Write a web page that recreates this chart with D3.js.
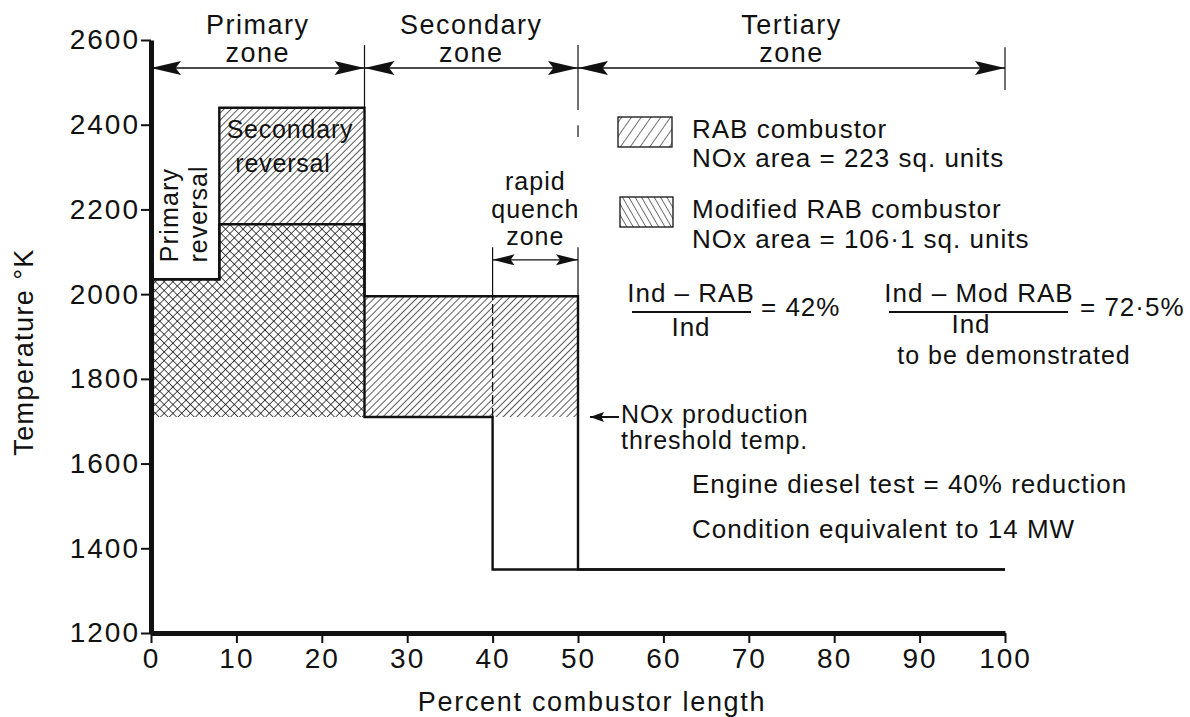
<!DOCTYPE html>
<html>
<head>
<meta charset="utf-8">
<script src="https://cdn.jsdelivr.net/npm/d3@7"></script>
<style>
  body { margin: 0; background: #fff; }
  text { font-family: "Liberation Sans", Arial, sans-serif; fill: #111; }
</style>
</head>
<body>
<div id="chart"></div>
<script>
// ---- data ----
var xTicks = [0, 10, 20, 30, 40, 50, 60, 70, 80, 90, 100];
var yTicks = [1200, 1400, 1600, 1800, 2000, 2200, 2400, 2600];

// step profiles: temperature holds from stepStart[i] to stepStart[i+1]
var stepStart = [0, 8, 25, 40, 50, 100];
var rabTemp   = [2035, 2440, 1995, 1995, 1350, 1350];
var modTemp   = [2035, 2165, 1710, 1350, 1350, 1350];
var thresholdTemp = 1710;

var zoneEdges = [0, 25, 50, 100];
var zoneNames = [["Primary", "zone"], ["Secondary", "zone"], ["Tertiary", "zone"]];
var quenchZone = [40, 50];

// ---- layout ----
var margin = {top: 40, right: 185, bottom: 84, left: 151},
    W = 1190, H = 717,
    width = W - margin.left - margin.right,
    height = H - margin.top - margin.bottom;

var svg = d3.select("#chart").append("svg")
    .attr("width", W).attr("height", H);

var defs = svg.append("defs");
function hatch(id, size, angle, cross, sw) {
    var p = defs.append("pattern")
        .attr("id", id)
        .attr("patternUnits", "userSpaceOnUse")
        .attr("width", size).attr("height", size)
        .attr("patternTransform", "rotate(" + angle + ")");
    p.append("line").attr("x1", 0).attr("y1", 0).attr("x2", 0).attr("y2", size)
        .attr("stroke", "#000").attr("stroke-width", sw);
    if (cross) {
        p.append("line").attr("x1", 0).attr("y1", 0).attr("x2", size).attr("y2", 0)
            .attr("stroke", "#000").attr("stroke-width", sw);
    }
}
hatch("rabHatch", 5, 45, false, 1.3);
hatch("crossHatch", 6.2, 45, true, 1.35);
hatch("legRab", 8, 35, false, 1.1);
hatch("legMod", 5.5, -30, false, 1.1);

var g = svg.append("g")
    .attr("transform", "translate(" + margin.left + "," + margin.top + ")");

var x = d3.scaleLinear().domain([0, 100]).range([0, width]);
var y = d3.scaleLinear().domain([1200, 2600]).range([height, 0]);

// points above the NOx threshold, for the hatched areas
function hotPoints(temps) {
    var pts = [], last = null;
    for (var i = 0; i < temps.length - 1; i++) {
        if (temps[i] > thresholdTemp) {
            pts.push({x: stepStart[i], t: temps[i]});
            last = {x: stepStart[i + 1], t: temps[i]};
        }
    }
    pts.push(last);
    return pts;
}
var area = d3.area().curve(d3.curveStepAfter)
    .x(function(d) { return x(d.x); })
    .y0(y(thresholdTemp))
    .y1(function(d) { return y(d.t); });

g.append("path").datum(hotPoints(rabTemp))
    .attr("d", area).attr("fill", "url(#rabHatch)");
g.append("path").datum(hotPoints(modTemp))
    .attr("d", area).attr("fill", "#fff");
g.append("path").datum(hotPoints(modTemp))
    .attr("d", area).attr("fill", "url(#crossHatch)");

// profile outlines
var line = d3.line().curve(d3.curveStepAfter)
    .x(function(d) { return x(d.x); })
    .y(function(d) { return y(d.t); });
[rabTemp, modTemp].forEach(function(temps) {
    var pts = stepStart.map(function(s, i) { return {x: s, t: temps[i]}; });
    g.append("path").datum(pts)
        .attr("d", line)
        .attr("fill", "none")
        .attr("stroke", "#111")
        .attr("stroke-width", 2.4);
});

// dashed line where the quench starts
g.append("line")
    .attr("x1", x(quenchZone[0])).attr("x2", x(quenchZone[0]))
    .attr("y1", y(thresholdTemp)).attr("y2", y(rabTemp[3]))
    .attr("stroke", "#111").attr("stroke-width", 1.3)
    .attr("stroke-dasharray", "9,4");

// axes
var yAxis = g.append("g")
    .call(d3.axisLeft(y).tickValues(yTicks).tickFormat(d3.format("d"))
        .tickSize(10).tickSizeOuter(0).tickPadding(1));
var xAxis = g.append("g")
    .attr("transform", "translate(0," + height + ")")
    .call(d3.axisBottom(x).tickValues(xTicks).tickFormat(d3.format("d"))
        .tickSize(10).tickSizeOuter(0).tickPadding(5));
[xAxis, yAxis].forEach(function(a) {
    a.select(".domain").style("stroke", "#111").style("stroke-width", "5px");
    a.selectAll(".tick line").style("stroke", "#111").style("stroke-width", "2px");
    a.selectAll(".tick text")
        .style("font-family", "'Liberation Sans', Arial, sans-serif")
        .style("font-size", "28px")
        .style("letter-spacing", "2px")
        .attr("fill", "#111");
});

// axis titles
svg.append("text")
    .attr("x", 592).attr("y", 711)
    .attr("text-anchor", "middle")
    .style("font-size", "27px").style("letter-spacing", "1.7px")
    .text("Percent combustor length");
svg.append("text")
    .attr("transform", "translate(33,352) rotate(-90)")
    .attr("text-anchor", "middle")
    .style("font-size", "27px").style("letter-spacing", "1.4px")
    .text("Temperature \u00b0K");

// arrow head helper
function head(tipX, tipY, dir, len, hw) {
    var b = tipX - dir * len;
    g.append("path")
        .attr("d", "M" + tipX + "," + tipY +
            "L" + b + "," + (tipY - hw) +
            "L" + (tipX - dir * len * 0.82) + "," + tipY +
            "L" + b + "," + (tipY + hw) + "Z")
        .attr("fill", "#111");
}
function vline(xv, t0, t1, sw) {
    g.append("line")
        .attr("x1", x(xv)).attr("x2", x(xv))
        .attr("y1", y(t0)).attr("y2", y(t1))
        .attr("stroke", "#111").attr("stroke-width", sw || 1.2);
}

// zone arrows and labels
var zoneY = y(2534);
zoneNames.forEach(function(nm, i) {
    var a = x(zoneEdges[i]), b = x(zoneEdges[i + 1]);
    g.append("line").attr("x1", a).attr("x2", b)
        .attr("y1", zoneY).attr("y2", zoneY)
        .attr("stroke", "#111").attr("stroke-width", 1.4);
    head(a, zoneY, -1, 30, 7);
    head(b, zoneY, 1, 30, 7);
    var cx = (a + b) / 2;
    g.append("text").attr("x", cx).attr("y", zoneY - 34)
        .attr("text-anchor", "middle")
        .style("font-size", "27px").style("letter-spacing", "1.5px")
        .text(nm[0]);
    g.append("text").attr("x", cx).attr("y", zoneY - 6)
        .attr("text-anchor", "middle")
        .style("font-size", "27px").style("letter-spacing", "1.5px")
        .text(nm[1]);
});
vline(25, 2588, rabTemp[1]);
vline(50, 2588, 2435);
vline(50, 2399, 2371);
vline(100, 2583, 2482);

// rapid quench zone
var qY = y(2081);
vline(quenchZone[0], 2111, rabTemp[3]);
vline(quenchZone[1], 2111, rabTemp[3]);
g.append("line")
    .attr("x1", x(quenchZone[0])).attr("x2", x(quenchZone[1]))
    .attr("y1", qY).attr("y2", qY)
    .attr("stroke", "#111").attr("stroke-width", 1.4);
head(x(quenchZone[0]), qY, -1, 22, 5.5);
head(x(quenchZone[1]), qY, 1, 22, 5.5);
var qx = x((quenchZone[0] + quenchZone[1]) / 2);
["rapid", "quench", "zone"].forEach(function(s, i) {
    svg.append("text").attr("x", margin.left + qx).attr("y", 190 + i * 27.5)
        .attr("text-anchor", "middle")
        .style("font-size", "25px").style("letter-spacing", "1px")
        .text(s);
});

// labels inside the primary zone
svg.append("text").attr("x", 290).attr("y", 138)
    .attr("text-anchor", "middle")
    .style("font-size", "25px").style("letter-spacing", "0.8px")
    .text("Secondary");
svg.append("text").attr("x", 283).attr("y", 172)
    .attr("text-anchor", "middle")
    .style("font-size", "25px").style("letter-spacing", "0.8px")
    .text("reversal");
svg.append("text").attr("transform", "translate(178,215) rotate(-90)")
    .attr("text-anchor", "middle")
    .style("font-size", "25px").style("letter-spacing", "1.2px")
    .text("Primary");
svg.append("text").attr("transform", "translate(207,214) rotate(-90)")
    .attr("text-anchor", "middle")
    .style("font-size", "25px").style("letter-spacing", "1px")
    .text("reversal");

// legend
function note(tx, ty, s, anchor, fs) {
    svg.append("text").attr("x", tx).attr("y", ty)
        .attr("text-anchor", anchor || "start")
        .style("font-size", (fs || 26) + "px").style("letter-spacing", "1px")
        .text(s);
}
svg.append("rect").attr("x", 618).attr("y", 117).attr("width", 54).attr("height", 30)
    .attr("fill", "url(#legRab)").attr("stroke", "#111").attr("stroke-width", 1.3);
svg.append("rect").attr("x", 620).attr("y", 197).attr("width", 53).attr("height", 30)
    .attr("fill", "url(#legMod)").attr("stroke", "#111").attr("stroke-width", 1.3);
note(692, 138, "RAB combustor");
note(692, 167, "NOx area = 223 sq. units");
note(692, 218, "Modified RAB combustor");
note(692, 248, "NOx  area =  106\u00b71 sq. units");

// reduction fractions
note(691, 302, "Ind \u2013 RAB", "middle");
svg.append("line").attr("x1", 632).attr("x2", 751).attr("y1", 312).attr("y2", 312)
    .attr("stroke", "#111").attr("stroke-width", 2);
note(691, 336, "Ind", "middle");
note(761, 316, "= 42%");
note(979, 302, "Ind \u2013 Mod RAB", "middle");
svg.append("line").attr("x1", 889).attr("x2", 1068).attr("y1", 312).attr("y2", 312)
    .attr("stroke", "#111").attr("stroke-width", 2);
note(971, 333, "Ind", "middle");
note(1014, 364, "to be demonstrated", "middle", 25);

note(1080, 316, "= 72\u00b75%");

// threshold pointer
var thY = y(thresholdTemp);
g.append("line").attr("x1", x(51.4)).attr("x2", x(54.8))
    .attr("y1", thY).attr("y2", thY)
    .attr("stroke", "#111").attr("stroke-width", 2);
head(x(51.4), thY, -1, 14, 5);
note(621, 423, "NOx production", "start", 25);
note(621, 449, "threshold temp.", "start", 25);

note(692, 493, "Engine diesel test = 40% reduction");
note(692, 538, "Condition equivalent to 14 MW");
</script>
</body>
</html>
